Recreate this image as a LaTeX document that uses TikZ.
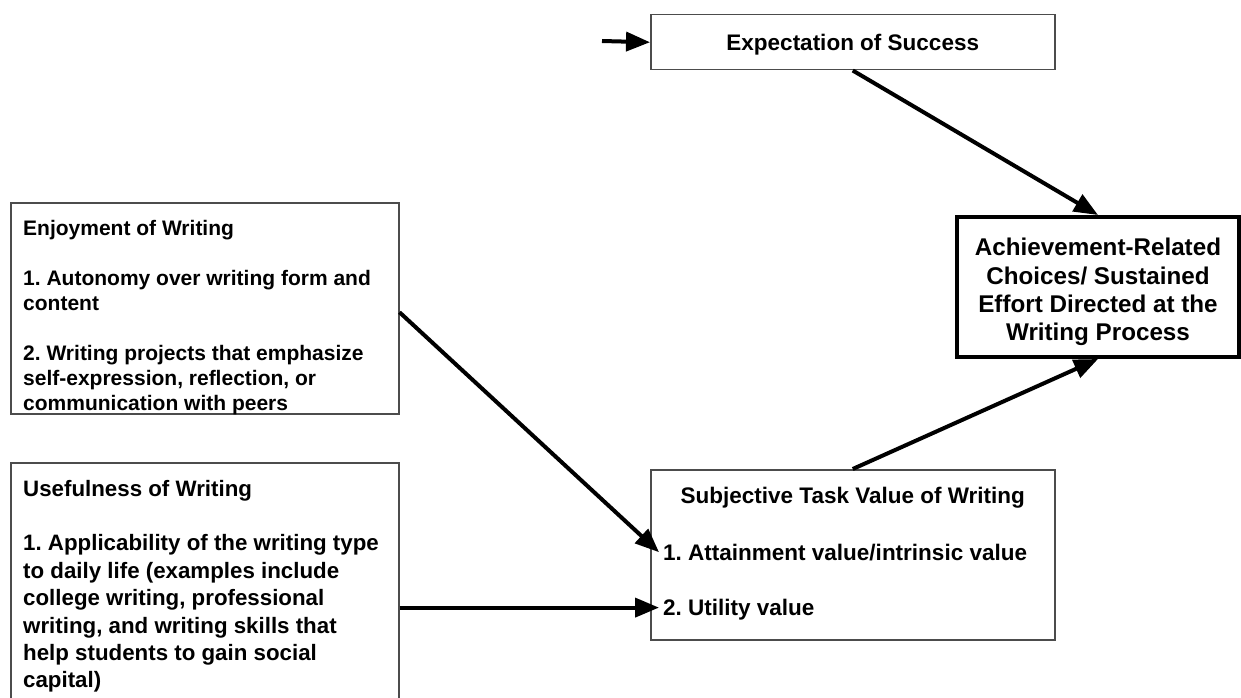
\documentclass[tikz,border=0pt]{standalone}
\usepackage{fontspec}
\setmainfont{Liberation Sans}
\usetikzlibrary{arrows.meta, positioning}
\frenchspacing

\begin{document}
\begin{tikzpicture}[x=1pt, y=-1pt,
  panel/.style={draw=black!70, line width=1.5pt, anchor=north west, inner sep=0pt},
  goal/.style={draw=black, line width=4pt, anchor=north west, inner sep=0pt},
  fs/.style 2 args={font=\fontsize{#1}{#2}\selectfont\bfseries},
  lbl/.style={inner sep=0pt, align=left, fs={22.5pt}{27.5pt}},
  item/.style={lbl, inner xsep=4pt, text height=16pt, text depth=0pt},
  conn/.style={line width=4pt, -{Triangle[length=24pt, width=19pt]}}]
\useasboundingbox (0,0) rectangle (1241,698);
\clip (0,0) rectangle (1241,698);

\node[panel, minimum width=404pt, minimum height=55pt] (expect) at (650,14) {};
\node[goal, minimum width=282pt, minimum height=140pt] (ach) at (955,215) {};
\node[panel, minimum width=388pt, minimum height=211pt] (enjoy) at (10,202) {};
\node[panel, minimum width=388pt, minimum height=260pt] (useful) at (10,462) {};
\node[panel, minimum width=404pt, minimum height=170pt] (stv) at (650,469) {};

\node[lbl, text height=16pt, text depth=0pt] (expecttxt) at (expect.center) {Expectation of Success};
\node[lbl, align=center, fs={24.2pt}{28.3pt}] (achtxt) at ([yshift=-5pt]ach.center)
  {Achievement-Related\\Choices/ Sustained\\Effort Directed at the\\Writing Process};
\node[lbl, fs={21pt}{25pt}, below right=18pt and 13pt of enjoy.north west] (enjoytxt)
  {Enjoyment of Writing\\[25pt]
   1. Autonomy over writing form and\\
   content\\[25pt]
   2. Writing projects that emphasize\\
   self-expression, reflection, or\\
   communication with peers};
\node[lbl, fs={22.3pt}{27.4pt}, below right=17.7pt and 13pt of useful.north west] (usefultxt)
  {Usefulness of Writing\\[27.4pt]
   1. Applicability of the writing type\\
   to daily life (examples include\\
   college writing, professional\\
   writing, and writing skills that\\
   help students to gain social\\
   capital)};
\node[lbl, text height=16pt, text depth=0pt, below=18pt of stv.north] (stvtitle) {Subjective Task Value of Writing};
\node[item, below right=75pt and 9pt of stv.north west] (stvone) {1. Attainment value/intrinsic value};
\node[item, below right=39pt and 0pt of stvone.south west] (stvtwo) {2. Utility value};

\coordinate (entry) at (602,41);
\draw[conn] (entry) -- (expect.west);
\draw[conn] (expect.south) -- (ach.north);
\draw[conn] (stv.north) -- (ach.south);
\draw[conn] ([yshift=-4pt]enjoy.east) -- (stvone.west);
\draw[conn] (useful.east |- stvtwo.west) -- (stvtwo.west);
\end{tikzpicture}
\end{document}
